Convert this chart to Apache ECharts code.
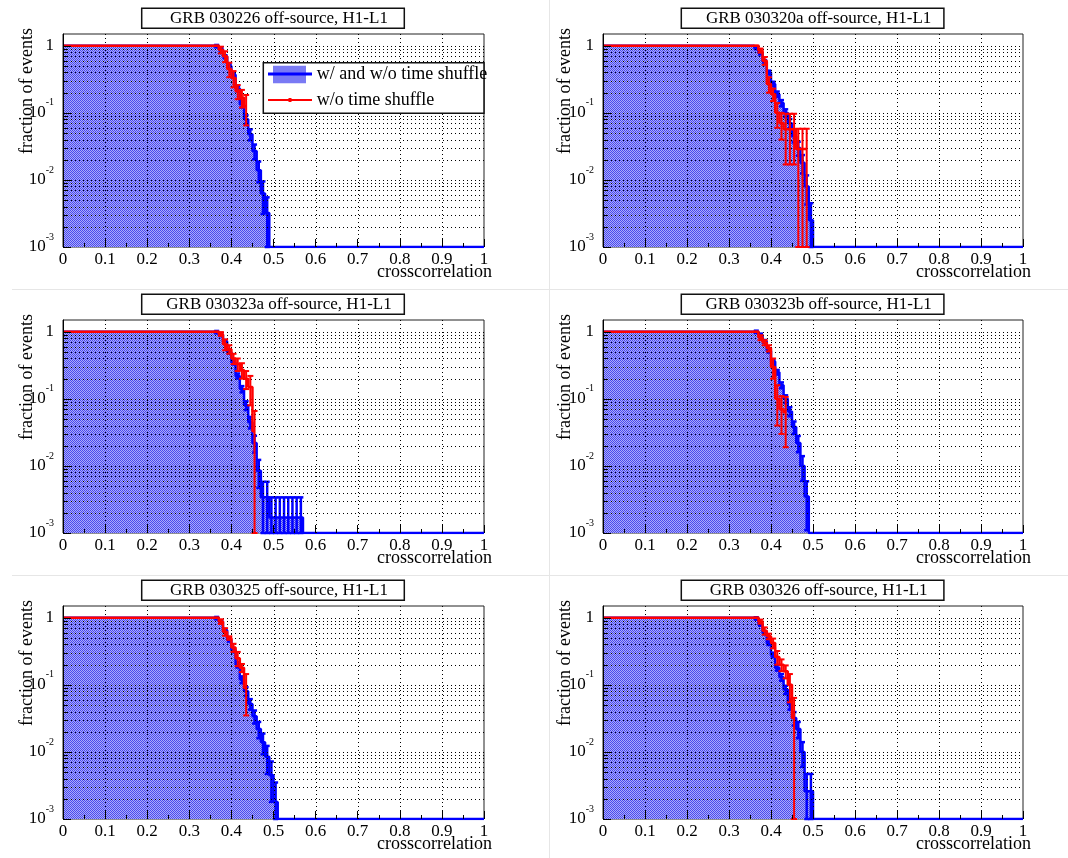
<!DOCTYPE html>
<html>
<head>
<meta charset="utf-8">
<title>GRB off-source crosscorrelation</title>
<script src="https://cdn.jsdelivr.net/npm/echarts@6/dist/echarts.min.js"></script>
<style>
  html, body { margin: 0; padding: 0; background: #fff; }
  #chart { width: 1068px; height: 858px; }
</style>
</head>
<body>
<div id="chart"></div>
<script>
const titles = [
  'GRB 030226 off-source, H1-L1',
  'GRB 030320a off-source, H1-L1',
  'GRB 030323a off-source, H1-L1',
  'GRB 030323b off-source, H1-L1',
  'GRB 030325 off-source, H1-L1',
  'GRB 030326 off-source, H1-L1'
];

// cumulative fractions, bins 0.01 wide, first listed bin starts at tailStart
// (everything left of it sits at 1)
const tailStart = 0.36;
const binWidth = 0.01;

// GRB 030226
const blue1 = [0.99, 0.89, 0.69, 0.5, 0.37, 0.23, 0.135, 0.08, 0.048, 0.027, 0.014, 0.0063, 0.0032];
const blueErr1 = [0.04, 0.039, 0.034, 0.029, 0.025, 0.02, 0.015, 0.012, 0.009, 0.0067, 0.0048, 0.0032, 0.0023];
const red1 = [1, 0.87, 0.7, 0.45, 0.33, 0.21, 0.17, 0.125];
const redErr1 = [0, 0.1, 0.13, 0.11, 0.09, 0.05, 0.05, 0.06];

// GRB 030320a
const blue2 = [0.93, 0.78, 0.58, 0.4, 0.27, 0.19, 0.14, 0.1, 0.07, 0.045, 0.03, 0.018, 0.008, 0.0025];
const blueErr2 = [0.039, 0.036, 0.031, 0.026, 0.021, 0.018, 0.015, 0.013, 0.011, 0.0087, 0.0071, 0.0055, 0.0037, 0.002];
const red2 = [1, 0.85, 0.6, 0.27, 0.19, 0.1, 0.07, 0.057, 0.057, 0.057, 0.029, 0.029, 0.029];
const redErr2 = [0, 0.06, 0.08, 0.07, 0.04, 0.04, 0.03, 0.04, 0.04, 0.04, 0.029, 0.029, 0.029];

// GRB 030323a
const blue3 = [0.99, 0.9, 0.72, 0.5, 0.35, 0.22, 0.14, 0.08, 0.045, 0.022, 0.0085, 0.0034, 0.0034,
  0.0017, 0.0017, 0.0017, 0.0017, 0.0017, 0.0017, 0.0017, 0.0017];
const blueErr3 = [0.04, 0.039, 0.035, 0.029, 0.024, 0.019, 0.015, 0.012, 0.0088, 0.0062, 0.0038, 0.0024, 0.0024,
  0.0017, 0.0017, 0.0017, 0.0017, 0.0017, 0.0017, 0.0017, 0.0017];
const red3 = [1, 0.93, 0.65, 0.55, 0.4, 0.33, 0.27, 0.2, 0.15, 0.033];
const redErr3 = [0, 0.06, 0.12, 0.08, 0.07, 0.07, 0.07, 0.06, 0.07, 0.033];

// GRB 030323b
const blue4 = [1, 0.9, 0.72, 0.52, 0.36, 0.25, 0.16, 0.1, 0.065, 0.038, 0.022, 0.01, 0.0035];
const blueErr4 = [0.04, 0.039, 0.035, 0.029, 0.024, 0.02, 0.016, 0.013, 0.01, 0.008, 0.006, 0.004, 0.0024];
const red4 = [1, 0.82, 0.69, 0.57, 0.3, 0.1, 0.07, 0.063];
const redErr4 = [0, 0.07, 0.06, 0.06, 0.1, 0.06, 0.04, 0.044];

// GRB 030325
const blue5 = [0.99, 0.87, 0.65, 0.47, 0.33, 0.2, 0.12, 0.08, 0.052, 0.034, 0.022, 0.014, 0.0085, 0.0045, 0.0018];
const blueErr5 = [0.04, 0.038, 0.033, 0.028, 0.023, 0.018, 0.014, 0.012, 0.0093, 0.0075, 0.006, 0.0048, 0.0038, 0.0027, 0.0017];
const red5 = [1, 0.88, 0.62, 0.5, 0.36, 0.25, 0.18, 0.09];
const redErr5 = [0, 0.07, 0.08, 0.03, 0.05, 0.06, 0.025, 0.055];

// GRB 030326
const blue6 = [0.98, 0.8, 0.6, 0.42, 0.28, 0.18, 0.13, 0.085, 0.052, 0.032, 0.022, 0.01, 0.0026, 0.0026];
const blueErr6 = [0.04, 0.037, 0.032, 0.026, 0.022, 0.017, 0.015, 0.012, 0.0093, 0.0073, 0.006, 0.004, 0.0021, 0.0021];
const red6 = [1, 0.88, 0.64, 0.53, 0.42, 0.26, 0.2, 0.16, 0.1, 0.032];
const redErr6 = [0, 0.06, 0.08, 0.05, 0.07, 0.06, 0.04, 0.035, 0.045, 0.032];

// grid lines (dotted) and log minor ticks
const xGrid = [0.1, 0.2, 0.3, 0.4, 0.5, 0.6, 0.7, 0.8, 0.9];
const yGrid = [0.002, 0.003, 0.004, 0.005, 0.006, 0.007, 0.008, 0.009, 0.01,
  0.02, 0.03, 0.04, 0.05, 0.06, 0.07, 0.08, 0.09, 0.1,
  0.2, 0.3, 0.4, 0.5, 0.6, 0.7, 0.8, 0.9, 1];
const yMinorTicks = [0.002, 0.003, 0.004, 0.005, 0.006, 0.007, 0.008, 0.009,
  0.02, 0.03, 0.04, 0.05, 0.06, 0.07, 0.08, 0.09,
  0.2, 0.3, 0.4, 0.5, 0.6, 0.7, 0.8, 0.9];

const panels = [
  { blue: blue1, blueErr: blueErr1, red: red1, redErr: redErr1 },
  { blue: blue2, blueErr: blueErr2, red: red2, redErr: redErr2 },
  { blue: blue3, blueErr: blueErr3, red: red3, redErr: redErr3 },
  { blue: blue4, blueErr: blueErr4, red: red4, redErr: redErr4 },
  { blue: blue5, blueErr: blueErr5, red: red5, redErr: redErr5 },
  { blue: blue6, blueErr: blueErr6, red: red6, redErr: redErr6 }
];

const yMin = 0.001, yMax = 1.5;
const FONT = "'Liberation Serif', 'DejaVu Serif', serif";
const BLUE = '#0000ff', RED = '#ff0000';

// ROOT-like dithered fill: small checker tile
const tile = document.createElement('canvas');
tile.width = 2; tile.height = 2;
const tctx = tile.getContext('2d');
tctx.fillStyle = '#ababfa'; tctx.fillRect(0, 0, 2, 2);
tctx.fillStyle = '#4a4aee'; tctx.fillRect(0, 0, 1, 1); tctx.fillRect(1, 1, 1, 1);
const FILL = { image: tile, repeat: 'repeat' };

// layout
const colLeft = [63, 603], colWidth = [421, 420];
const rowTop = [34, 320, 606], plotH = 213;
const boxLeft = [141.7, 681.3], boxWidth = 262.6;
const yTitleX = [27, 565], xTitleRight = [492, 1031];

function r2(v) { return Math.round(v * 1000) / 1000; }

function blueLine(vals) {
  const pts = [[0, 1]];
  vals.forEach((v, i) => pts.push([r2(tailStart + i * binWidth), v]));
  pts.push([r2(tailStart + vals.length * binWidth), yMin], [1, yMin]);
  return pts;
}
function redLine(vals) {
  const pts = [[0, 1]];
  vals.forEach((v, i) => pts.push([r2(tailStart + (i + 0.5) * binWidth), v]));
  return pts;
}
function errBars(vals, errs) {
  return vals.map((v, i) => [
    r2(tailStart + (i + 0.5) * binWidth),
    v - errs[i] > yMin ? v - errs[i] : yMin,
    v + errs[i]
  ]);
}
function errRender(color, width, cap) {
  return function (params, api) {
    const x = api.value(0);
    const lo = api.coord([x, api.value(1)]);
    const hi = api.coord([x, api.value(2)]);
    const st = () => ({ stroke: color, lineWidth: width });
    return {
      type: 'group',
      children: [
        { type: 'line', shape: { x1: lo[0], y1: lo[1], x2: hi[0], y2: hi[1] }, style: st() },
        { type: 'line', shape: { x1: hi[0] - cap, y1: hi[1], x2: hi[0] + cap, y2: hi[1] }, style: st() },
        { type: 'line', shape: { x1: lo[0] - cap, y1: lo[1], x2: lo[0] + cap, y2: lo[1] }, style: st() }
      ]
    };
  };
}
// dotted grid: vertical lines from [x, yMin], horizontal lines from [0, y]
function vGridRender(params, api) {
  const cs = params.coordSys;
  const x = Math.round(api.coord([api.value(0), yMin])[0]) + 0.5;
  return { type: 'line', shape: { x1: x, y1: cs.y, x2: x, y2: cs.y + cs.height },
    style: { stroke: '#000', lineWidth: 1, lineDash: [1, 3] } };
}
function hGridRender(params, api) {
  const cs = params.coordSys;
  const y = Math.round(api.coord([0, api.value(1)])[1]) + 0.5;
  return { type: 'line', shape: { x1: cs.x, y1: y, x2: cs.x + cs.width, y2: y },
    style: { stroke: '#000', lineWidth: 1, lineDash: [1, 3] } };
}
function minorTickRender(params, api) {
  const cs = params.coordSys;
  const y = Math.round(api.coord([0, api.value(1)])[1]) + 0.5;
  return { type: 'line', shape: { x1: cs.x, y1: y, x2: cs.x + 5, y2: y },
    style: { stroke: '#000', lineWidth: 1 } };
}

const grids = [], xAxes = [], yAxes = [], series = [], graphics = [];

// separators between the pads
graphics.push(
  { type: 'line', shape: { x1: 12, y1: 289.5, x2: 1068, y2: 289.5 }, style: { stroke: '#e6e6e6', lineWidth: 1 } },
  { type: 'line', shape: { x1: 12, y1: 575.5, x2: 1068, y2: 575.5 }, style: { stroke: '#e6e6e6', lineWidth: 1 } },
  { type: 'line', shape: { x1: 549.5, y1: 0, x2: 549.5, y2: 858 }, style: { stroke: '#e6e6e6', lineWidth: 1 } }
);

panels.forEach((p, i) => {
  const col = i % 2, row = Math.floor(i / 2);
  const top = rowTop[row];
  grids.push({
    left: colLeft[col], top: top, width: colWidth[col], height: plotH,
    show: true, backgroundColor: '#fff', borderColor: '#222', borderWidth: 1,
    containLabel: false, outerBoundsMode: 'none'
  });
  xAxes.push({
    type: 'value', gridIndex: i, min: 0, max: 1, interval: 0.1, z: 12,
    axisLine: { show: false },
    axisTick: { show: true, inside: true, length: 8, lineStyle: { color: '#000' } },
    minorTick: { show: true, splitNumber: 2, length: 4, lineStyle: { color: '#000' } },
    splitLine: { show: false },
    axisLabel: { margin: 4, color: '#000', fontSize: 17, fontFamily: FONT, hideOverlap: false }
  });
  yAxes.push({
    type: 'log', logBase: 10, gridIndex: i, min: yMin, max: yMax, z: 12,
    axisLine: { show: true, lineStyle: { color: '#000' } },
    axisTick: { show: true, inside: true, length: 8, lineStyle: { color: '#000' } },
    splitLine: { show: false },
    axisLabel: {
      margin: 9, color: '#000', fontSize: 17, fontFamily: FONT, lineHeight: 30,
      showMaxLabel: false, hideOverlap: false,
      formatter: function (v) {
        const lg = Math.log10(v), pw = Math.round(lg);
        if (Math.abs(lg - pw) > 0.01) return '';
        if (pw === 0) return '1';
        return '10{sup|' + pw + '}';
      },
      rich: { sup: { fontSize: 10, fontFamily: FONT, color: '#000', verticalAlign: 'top', lineHeight: 10 } }
    }
  });

  series.push({
    type: 'line', xAxisIndex: i, yAxisIndex: i, step: 'end', symbol: 'none', z: 1,
    data: blueLine(p.blue),
    lineStyle: { color: BLUE, width: 2.5 },
    areaStyle: { color: FILL, opacity: 1, origin: 'start' }
  });
  series.push({
    type: 'custom', xAxisIndex: i, yAxisIndex: i, z: 1,
    encode: { x: 0, y: [1, 2] },
    renderItem: errRender(BLUE, 2.5, 2.5),
    data: errBars(p.blue, p.blueErr)
  });
  series.push({
    type: 'custom', xAxisIndex: i, yAxisIndex: i, z: 8, silent: true,
    encode: { x: 0, y: 1 },
    renderItem: vGridRender,
    data: xGrid.map(v => [v, yMin])
  });
  series.push({
    type: 'custom', xAxisIndex: i, yAxisIndex: i, z: 8, silent: true,
    encode: { x: 0, y: 1 },
    renderItem: hGridRender,
    data: yGrid.map(v => [0, v])
  });
  series.push({
    type: 'custom', xAxisIndex: i, yAxisIndex: i, z: 8, silent: true,
    encode: { x: 0, y: 1 },
    renderItem: minorTickRender,
    data: yMinorTicks.map(v => [0, v])
  });
  series.push({
    type: 'line', xAxisIndex: i, yAxisIndex: i, step: 'middle', symbol: 'none', z: 10,
    data: redLine(p.red),
    lineStyle: { color: RED, width: 2.5 }
  });
  series.push({
    type: 'custom', xAxisIndex: i, yAxisIndex: i, z: 10,
    encode: { x: 0, y: [1, 2] },
    renderItem: errRender(RED, 2, 3),
    data: errBars(p.red, p.redErr)
  });

  // title box
  const by = 8.3 + row * 286;
  graphics.push({
    type: 'rect', z: 20,
    shape: { x: boxLeft[col], y: by, width: boxWidth, height: 20 },
    style: { fill: '#fff', stroke: '#111', lineWidth: 1.5 }
  });
  graphics.push({
    type: 'text', z: 21, x: boxLeft[col] + boxWidth / 2 + 6, y: by + 10,
    style: { text: titles[i], font: '17px ' + FONT, fill: '#000', align: 'center', verticalAlign: 'middle' }
  });
  // axis titles
  graphics.push({
    type: 'text', z: 21, x: yTitleX[col], y: top - 6, rotation: Math.PI / 2,
    style: { text: 'fraction of events', font: '18px ' + FONT, fill: '#000', align: 'right', verticalAlign: 'middle' }
  });
  graphics.push({
    type: 'text', z: 21, x: xTitleRight[col], y: top + plotH + 25,
    style: { text: 'crosscorrelation', font: '18px ' + FONT, fill: '#000', align: 'right', verticalAlign: 'middle' }
  });
});

// legend (first pad only)
graphics.push(
  { type: 'rect', z: 20, shape: { x: 263.3, y: 62.7, width: 220.7, height: 50.6 },
    style: { fill: '#fff', stroke: '#111', lineWidth: 1.5 } },
  { type: 'rect', z: 21, shape: { x: 273, y: 65.7, width: 33, height: 17.6 }, style: { fill: '#7a7af4' } },
  { type: 'line', z: 22, shape: { x1: 268, y1: 74, x2: 312, y2: 74 }, style: { stroke: BLUE, lineWidth: 3 } },
  { type: 'text', z: 22, x: 316.7, y: 74,
    style: { text: 'w/ and w/o time shuffle', font: '18px ' + FONT, fill: '#000', align: 'left', verticalAlign: 'middle' } },
  { type: 'line', z: 22, shape: { x1: 268, y1: 100, x2: 312, y2: 100 }, style: { stroke: RED, lineWidth: 2 } },
  { type: 'rect', z: 22, shape: { x: 288.5, y: 98, width: 3, height: 4 }, style: { fill: RED } },
  { type: 'text', z: 22, x: 316.7, y: 100,
    style: { text: 'w/o time shuffle', font: '18px ' + FONT, fill: '#000', align: 'left', verticalAlign: 'middle' } }
);

const chart = echarts.init(document.getElementById('chart'));
chart.setOption({
  animation: false,
  backgroundColor: '#fff',
  textStyle: { fontFamily: FONT },
  grid: grids,
  xAxis: xAxes,
  yAxis: yAxes,
  series: series,
  graphic: { elements: graphics }
});
</script>
</body>
</html>
